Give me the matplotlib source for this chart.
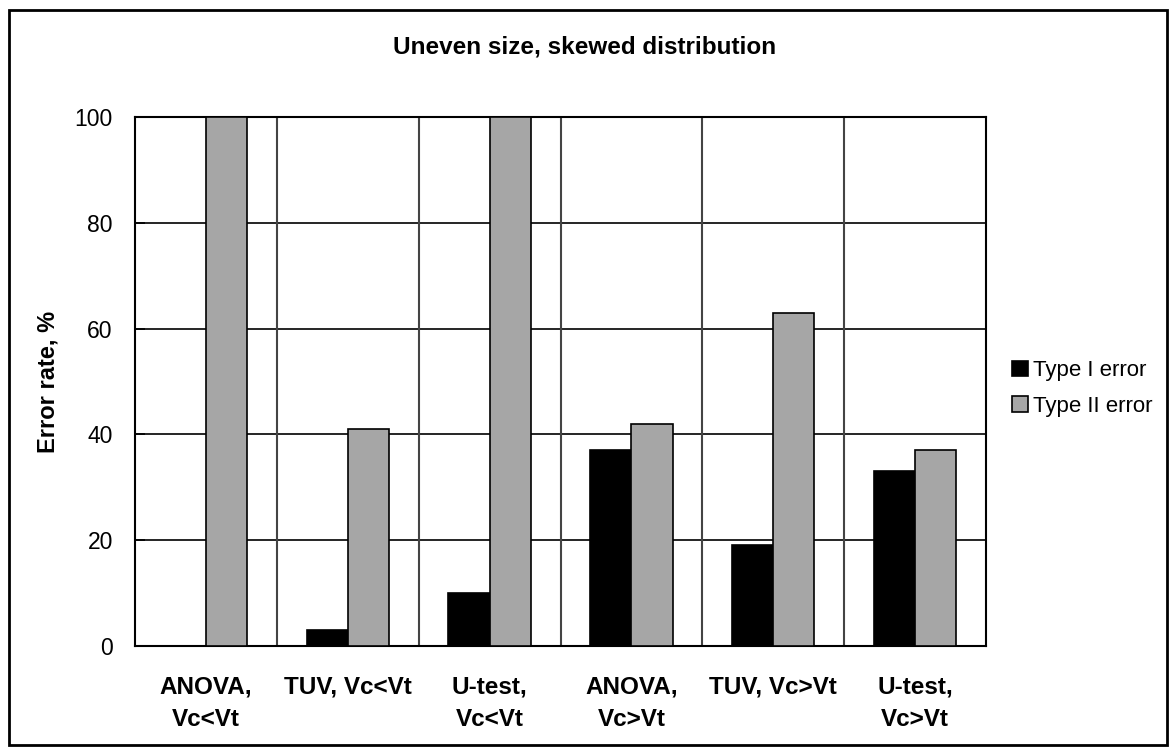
import numpy as np
import matplotlib.pyplot as plt
from matplotlib.patches import Rectangle

plt.rcParams['font.family'] = ['Liberation Sans', 'DejaVu Sans']

# categories and values
categories = ['ANOVA,\nVc<Vt', 'TUV, Vc<Vt', 'U-test,\nVc<Vt',
              'ANOVA,\nVc>Vt', 'TUV, Vc>Vt', 'U-test,\nVc>Vt']
type1 = [0, 3, 10, 37, 19, 33]
type2 = [100, 41, 100, 42, 63, 37]
yticks = [0, 20, 40, 60, 80, 100]

fig = plt.figure(figsize=(11.7, 7.47), dpi=100)
ax = fig.add_axes([0.1154, 0.1352, 0.7274, 0.7082])

x = np.arange(len(categories))
w = 0.29
ax.bar(x - w / 2, type1, w, color='black', edgecolor='black', linewidth=1.2,
       label='Type I error', zorder=3)
ax.bar(x + w / 2, type2, w, color='#a6a6a6', edgecolor='black', linewidth=1.2,
       label='Type II error', zorder=3)

ax.set_xlim(-0.5, len(categories) - 0.5)
ax.set_ylim(0, 100)
ax.set_yticks(yticks)
ax.tick_params(axis='y', direction='in', length=7, width=1.2, labelsize=16.5, pad=16)
ax.set_xticks(x)
ax.set_xticklabels(categories, fontsize=17.5, fontweight='bold', linespacing=1.55)
ax.tick_params(axis='x', length=0, pad=21)

# horizontal grid + vertical separators between categories
for yv in yticks[1:-1]:
    ax.axhline(yv, color='black', linewidth=1.2, zorder=1)
for xv in np.arange(0.5, len(categories) - 0.5, 1):
    ax.axvline(xv, color='#444444', linewidth=1.5, zorder=1)

for s in ax.spines.values():
    s.set_linewidth(1.5)
    s.set_color('black')

ax.set_ylabel('Error rate, %', fontsize=17, fontweight='bold', labelpad=11)
fig.text(0.5, 0.937, 'Uneven size, skewed distribution', ha='center', va='center',
         fontsize=17.5, fontweight='bold')

leg = ax.legend(loc='center left', bbox_to_anchor=(1.02, 0.487), frameon=False,
                fontsize=16, handlelength=0.7, handleheight=0.7,
                handletextpad=0.25, labelspacing=0.65, borderaxespad=0)

fig.patches.append(Rectangle((9 / 1170, 2 / 747), 1158 / 1170, 735 / 747,
                             transform=fig.transFigure, fill=False,
                             edgecolor='black', linewidth=2))

fig.savefig('out.png', dpi=100)
